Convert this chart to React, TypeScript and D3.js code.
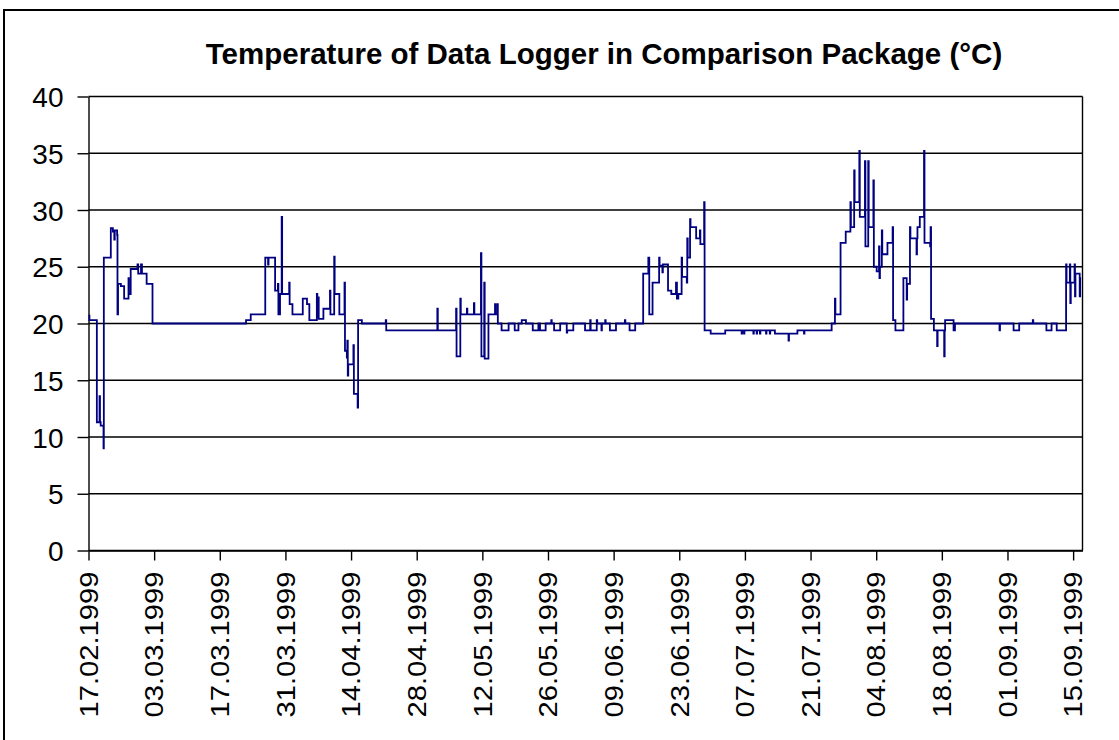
import { useEffect, useRef } from "react";
import * as d3 from "d3";

// logger readings as [days after 17.02.1999, °C]; each value holds until the next one
const START_DATE = "17.02.1999";
const DAYS_SHOWN = 212;

const febToApr: [number, number][] = [
  [0, 20.7], [0.2, 20.3], [1.78, 11.3], [2.35, 13.6], [2.45, 11.3], [2.6, 11.0],
  [3.2, 9.0], [3.27, 25.8], [4.76, 28.4], [5.2, 28.1], [5.5, 27.4], [5.6, 28.2],
  [6.1, 27.8], [6.18, 20.8], [6.3, 23.5], [6.9, 23.3], [7.6, 22.2], [8.53, 24.0],
  [8.6, 22.6], [9.0, 24.8], [10.45, 25.2], [10.6, 24.4], [11.2, 25.2], [11.4, 24.4],
  [12.4, 23.5], [13.65, 20.0], [33.6, 20.3], [34.6, 20.8], [37.7, 25.8], [38.3, 25.2],
  [38.4, 25.8], [39.8, 22.9], [40.4, 23.5], [40.5, 20.8], [40.85, 22.6], [41.2, 29.4],
  [41.3, 22.6], [42.8, 23.6], [42.9, 21.7], [43.5, 20.8], [45.7, 22.2], [46.6, 21.7],
  [47.1, 20.3], [48.7, 22.6], [48.8, 20.6], [49.0, 22.3], [49.1, 20.4], [50.1, 21.3],
  [51.5, 22.9], [51.6, 20.8], [52.4, 25.9], [52.5, 22.6], [53.5, 20.8], [54.6, 23.6],
  [54.7, 17.6], [55.1, 17.0], [55.2, 18.5], [55.3, 15.4], [55.4, 16.4], [56.5, 18.1],
  [56.6, 13.8], [57.4, 12.6], [57.5, 20.3], [58.3, 20.0], [63.4, 20.3], [63.5, 19.4],
];

const mayToJun: [number, number][] = [
  [74.4, 21.3], [74.5, 19.4], [78.4, 21.3], [78.5, 17.1], [79.3, 22.2], [79.4, 20.8],
  [80.7, 21.3], [80.8, 20.8], [82.2, 21.8], [82.3, 20.8], [83.7, 26.2], [83.8, 17.1],
  [84.4, 23.6], [84.5, 16.9], [85.3, 20.8], [86.7, 21.7], [86.8, 20.8], [87.2, 21.7],
  [87.3, 20.0], [88.1, 19.4], [89.6, 20.0], [90.9, 19.4], [91.7, 20.0], [92.4, 20.3],
  [93.3, 20.0], [94.75, 19.4], [95.95, 20.0], [96.3, 19.4], [97.5, 20.0], [98.7, 20.3],
  [98.8, 20.0], [99.3, 19.4], [100.6, 20.0], [102.0, 19.2], [102.1, 19.4], [103.4, 20.0],
  [105.9, 19.4], [107.0, 20.3], [107.1, 19.4], [108.4, 20.3], [108.5, 20.0], [109.4, 19.4],
  [109.5, 20.0], [110.2, 20.3], [110.3, 20.0], [111.2, 19.4], [112.5, 20.0], [114.4, 20.3],
  [114.5, 20.0], [115.4, 19.4], [116.6, 20.0],
  [118.3, 24.4], [119.4, 25.8], [119.6, 20.8], [120.3, 23.6], [121.7, 25.8], [121.8, 25.1],
  [122.4, 24.5], [122.5, 25.2], [123.6, 22.9], [124.3, 22.6], [125.3, 23.6], [125.5, 22.2],
  [125.8, 22.6], [126.5, 25.8], [126.6, 24.1], [127.6, 23.6], [127.7, 27.5], [127.8, 25.8],
  [128.3, 29.2], [128.4, 28.5], [129.6, 27.5], [130.4, 28.2], [130.5, 27.0], [131.3, 30.7],
  [131.4, 19.4],
];

const julToAug: [number, number][] = [
  [132.7, 19.1], [135.8, 19.4], [139.3, 19.1], [139.4, 19.4], [139.8, 19.1], [139.9, 19.4],
  [141.8, 19.1], [141.9, 19.4], [142.5, 19.1], [142.6, 19.4], [143.2, 19.1], [143.3, 19.4],
  [144.5, 19.1], [144.6, 19.4], [145.3, 19.1], [145.4, 19.4], [146.4, 19.1], [149.3, 18.5],
  [149.4, 19.1], [151.2, 19.4], [152.6, 19.1], [152.7, 19.4], [158.5, 20.0],
  [159.2, 22.2], [159.3, 20.8], [160.4, 27.1], [161.5, 28.1], [162.5, 30.7], [162.6, 28.5],
  [163.3, 33.5], [163.4, 30.7], [164.4, 35.2], [164.5, 29.4], [165.6, 34.3], [165.7, 26.8],
  [166.3, 34.3], [166.4, 28.5], [167.4, 32.6], [167.5, 25.0], [168.1, 24.6], [168.6, 26.8],
  [168.7, 24.0], [168.8, 25.0], [169.2, 28.2], [169.3, 26.1], [170.4, 27.1], [171.5, 28.5],
  [171.6, 20.3], [172.1, 19.4], [173.8, 24.0], [174.5, 22.1], [174.6, 23.5], [175.2, 28.5],
  [175.3, 27.5], [176.6, 26.1], [176.7, 27.5], [176.8, 28.5], [177.3, 29.4], [178.2, 35.2],
  [178.3, 27.1], [179.5, 26.8], [179.6, 28.5], [179.7, 20.4],
];

const augToSep: [number, number][] = [
  [180.3, 19.4], [181.0, 18.0], [181.1, 19.4], [182.5, 17.1], [182.6, 19.4], [182.7, 20.3],
  [184.5, 19.4], [184.8, 20.0], [194.3, 19.4], [194.4, 20.0], [197.3, 19.4], [198.5, 20.0],
  [201.4, 20.3], [201.5, 20.0], [204.3, 19.4], [205.4, 20.0], [206.5, 19.4], [208.5, 25.2],
  [208.6, 23.6], [209.3, 25.2], [209.4, 21.8], [209.5, 23.6], [210.3, 25.2], [210.4, 22.4],
  [210.5, 24.4], [211.4, 22.4], [211.5, 24.0], [211.7, 24.0],
];

const yTicks = [0, 5, 10, 15, 20, 25, 30, 35, 40];
const xTickLabels = [
  "17.02.1999", "03.03.1999", "17.03.1999", "31.03.1999", "14.04.1999", "28.04.1999",
  "12.05.1999", "26.05.1999", "09.06.1999", "23.06.1999", "07.07.1999", "21.07.1999",
  "04.08.1999", "18.08.1999", "01.09.1999", "15.09.1999",
];

const TITLE = "Temperature of Data Logger in Comparison Package (°C)";

const W = 1119;
const H = 740;
const FONT = "'Liberation Sans', Arial, Helvetica, sans-serif";

export default function App() {
  const svgRef = useRef<SVGSVGElement>(null);

  useEffect(() => {
    const svg = d3.select(svgRef.current);
    svg.selectAll("*").remove();

    const plot = { left: 88.5, right: 1082.5, top: 96.5, bottom: 550.5 };
    const parse = d3.utcParse("%d.%m.%Y");
    const fmt = d3.utcFormat("%d.%m.%Y");
    const start = parse(START_DATE) as Date;
    const toDate = (day: number) => new Date(start.getTime() + day * 864e5);

    const x = d3
      .scaleUtc()
      .domain([start, d3.utcDay.offset(start, DAYS_SHOWN)])
      .range([plot.left, plot.right]);
    const y = d3.scaleLinear().domain([0, 40]).range([plot.bottom, plot.top]);

    svg.append("rect").attr("width", W).attr("height", H).attr("fill", "#fff");

    // chart area border (runs off the right and bottom of the picture)
    svg.append("rect")
      .attr("x", 4).attr("y", 10)
      .attr("width", 1300).attr("height", 900)
      .attr("fill", "none").attr("stroke", "#000").attr("stroke-width", 2);

    svg.append("text")
      .attr("x", 604).attr("y", 64)
      .attr("text-anchor", "middle")
      .style("font-family", FONT)
      .style("font-size", "29.5px")
      .style("font-weight", "bold")
      .text(TITLE);

    // gridlines
    svg.append("g")
      .selectAll("line")
      .data(yTicks)
      .enter()
      .append("line")
      .attr("x1", plot.left).attr("x2", plot.right)
      .attr("y1", (d) => y(d)).attr("y2", (d) => y(d))
      .attr("stroke", "#000").attr("stroke-width", 1.4);

    // right border of the plot
    svg.append("line")
      .attr("x1", plot.right).attr("x2", plot.right)
      .attr("y1", plot.top).attr("y2", plot.bottom)
      .attr("stroke", "#000").attr("stroke-width", 1.4);

    // y axis
    const yAxis = svg.append("g")
      .attr("transform", `translate(${plot.left},0)`)
      .call(d3.axisLeft(y).tickValues(yTicks).tickSize(11).tickSizeOuter(0).tickPadding(14));
    yAxis.selectAll("path, line").attr("stroke", "#000").attr("stroke-width", 1.4);
    yAxis.selectAll("text")
      .attr("fill", "#000")
      .attr("dy", "0.36em")
      .style("font-family", FONT)
      .style("font-size", "28px");

    // x axis with rotated date labels
    const tickDates = xTickLabels.map((s) => parse(s) as Date);
    const xAxis = svg.append("g")
      .attr("transform", `translate(0,${plot.bottom})`)
      .call(
        d3.axisBottom(x)
          .tickValues(tickDates)
          .tickFormat((d) => fmt(d as Date))
          .tickSize(10)
          .tickSizeOuter(0)
      );
    xAxis.selectAll("path, line").attr("stroke", "#000").attr("stroke-width", 1.4);
    xAxis.selectAll("text")
      .attr("fill", "#000")
      .attr("transform", "rotate(-90)")
      .attr("x", -21)
      .attr("y", 0)
      .attr("dy", "0.35em")
      .attr("text-anchor", "end")
      .attr("textLength", 146)
      .attr("lengthAdjust", "spacingAndGlyphs")
      .style("font-family", FONT)
      .style("font-size", "25px");

    // temperature line
    const readings = [...febToApr, ...mayToJun, ...julToAug, ...augToSep];
    const line = d3
      .line<[number, number]>()
      .x((d) => x(toDate(d[0])))
      .y((d) => y(d[1]))
      .curve(d3.curveStepAfter);

    svg.append("path")
      .datum(readings)
      .attr("fill", "none")
      .attr("stroke", "#000080")
      .attr("stroke-width", 1.8)
      .attr("d", line);
  }, []);

  return (
    <svg
      ref={svgRef}
      width={W}
      height={H}
      style={{ position: "absolute", left: 0, top: 0, display: "block" }}
    />
  );
}
